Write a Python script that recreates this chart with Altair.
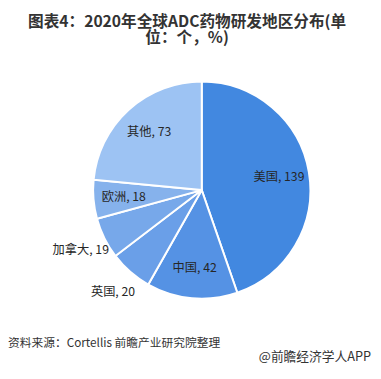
import altair as alt
import pandas as pd

categories = ["美国", "中国", "英国", "加拿大", "欧洲", "其他"]
values = [139, 42, 20, 19, 18, 73]
colors = ["#4288E0", "#5592E4", "#6A9FE8", "#77A8EA", "#86B2EC", "#9DC3F3"]
outside = ["英国", "加拿大"]

title_lines = ["图表4：2020年全球ADC药物研发地区分布(单", "位：个，%)"]
source_text = "资料来源：Cortellis 前瞻产业研究院整理"
brand_text = "@前瞻经济学人APP"

df = pd.DataFrame({
    "cat": categories,
    "value": values,
    "idx": list(range(len(categories))),
})
df["label"] = [f"{c}, {v}" for c, v in zip(categories, values)]

FONT = "Noto Sans CJK SC"
CX, CY, R = 198, 182, 111

pie = alt.Chart(df).mark_arc(stroke="white", strokeWidth=2, outerRadius=R).encode(
    theta=alt.Theta("value:Q", stack=True),
    order=alt.Order("idx:Q"),
    color=alt.Color("cat:N", scale=alt.Scale(domain=categories, range=colors), legend=None),
    x=alt.value(CX),
    y=alt.value(CY),
)

labels = alt.Chart(df).transform_window(
    cum="sum(value)", sort=[alt.SortField("idx")], frame=[None, 0]
).transform_joinaggregate(
    total="sum(value)"
).transform_calculate(
    r=f"indexof({outside!r}, datum.cat) >= 0 ? 138 : 80",
    a="(datum.cum - datum.value / 2) / datum.total * 2 * PI",
).transform_calculate(
    px=f"{CX} + datum.r * sin(datum.a)",
    py=f"{CY} - datum.r * cos(datum.a)",
).mark_text(font=FONT, fontSize=12.5, color="#262626").encode(
    text="label:N",
    x=alt.X("px:Q", scale=None),
    y=alt.Y("py:Q", scale=None),
)

one = alt.Data(values=[{}])
title = alt.Chart(one).mark_text(
    font=FONT, fontSize=16, fontWeight="bold", color="#333333", align="center",
    baseline="top", lineHeight=17,
).encode(x=alt.value(183), y=alt.value(2), text=alt.value(title_lines))
src = alt.Chart(one).mark_text(font=FONT, fontSize=12, color="#333333", align="left").encode(
    x=alt.value(0), y=alt.value(338), text=alt.value(source_text))
brand = alt.Chart(one).mark_text(font=FONT, fontSize=13, color="#333333", align="right").encode(
    x=alt.value(371), y=alt.value(353), text=alt.value(brand_text))

chart = alt.layer(pie, labels, title, src, brand).properties(
    width=373, height=371, autosize=alt.AutoSizeParams(type="none"), padding=0,
    background="white",
).configure_view(stroke=None)

chart.save("out.html", embed_options={"renderer": "svg", "actions": False})
